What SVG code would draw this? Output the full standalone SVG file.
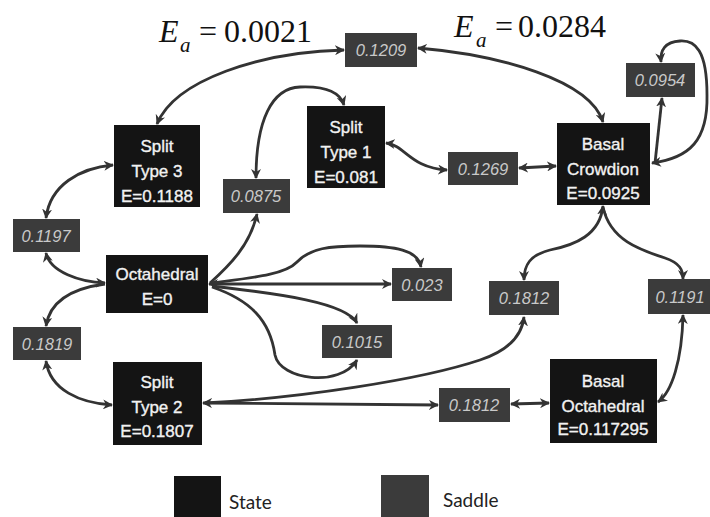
<svg xmlns="http://www.w3.org/2000/svg" width="710" height="517" viewBox="0 0 710 517">
<style>
.st{fill:#141414}
.sd{fill:#3b3b3b}
.stt{fill:#f2f2f2;stroke:#f2f2f2;stroke-width:0.35;font-family:"Liberation Sans",Arial,sans-serif;font-size:17px;text-anchor:middle}
.sdt{fill:#c9c9c9;font-family:"Liberation Sans",Arial,sans-serif;font-size:16.5px;font-style:italic;text-anchor:middle}
.ln{fill:none;stroke:#333;stroke-width:2.8}
.ttl{font-family:"Liberation Serif","Times New Roman",serif;fill:#111}
.lg{font-family:Lato,"Open Sans",sans-serif;font-size:19px;fill:#222}
</style>
<defs>
<marker id="ah" viewBox="0 0 10 10" refX="9" refY="5" markerUnits="userSpaceOnUse" markerWidth="10" markerHeight="10" orient="auto-start-reverse">
<path d="M0,0 L10,5 L0,10 L3,5 z" fill="#333"/>
</marker>
</defs>
<g id="titles">
<text class="ttl" x="159" y="42" font-size="32" font-style="italic">E</text>
<text class="ttl" x="180" y="52" font-size="21" font-style="italic">a</text>
<text class="ttl" x="199" y="42" font-size="32">=</text>
<text class="ttl" x="224" y="42" font-size="32">0.0021</text>
<text class="ttl" x="454" y="37" font-size="32" font-style="italic">E</text>
<text class="ttl" x="476" y="47" font-size="21" font-style="italic">a</text>
<text class="ttl" x="495" y="37" font-size="32">=</text>
<text class="ttl" x="518" y="37" font-size="32">0.0284</text>
</g>
<g id="connectors">
<path class="ln" marker-start="url(#ah)" marker-end="url(#ah)" d="M157,124 C175,80 260,52 344,50"/>
<path class="ln" marker-start="url(#ah)" marker-end="url(#ah)" d="M418,48 C500,55 590,80 603,122"/>
<path class="ln" marker-start="url(#ah)" marker-end="url(#ah)" d="M256,178 C256,120 272,88 300,87 C325,86 340,92 344,105"/>
<path class="ln" marker-start="url(#ah)" marker-end="url(#ah)" d="M386,143 C405,145 410,168 447,170"/>
<path class="ln" marker-start="url(#ah)" marker-end="url(#ah)" d="M519,168 L556,166"/>
<path class="ln" marker-end="url(#ah)" d="M655,163 L662,98"/>
<path class="ln" marker-start="url(#ah)" marker-end="url(#ah)" d="M652,163 C690,158 708,140 707,95 C707,50 695,40 680,41 C665,42 660,50 661,62"/>
<path class="ln" marker-start="url(#ah)" marker-end="url(#ah)" d="M603,206 C600,235 575,245 550,250 C530,255 524,265 524,280"/>
<path class="ln" marker-end="url(#ah)" d="M603,207 C610,240 640,250 665,258 C680,263 683,270 683,279"/>
<path class="ln" marker-start="url(#ah)" marker-end="url(#ah)" d="M113,165 C80,168 50,185 46,218"/>
<path class="ln" marker-start="url(#ah)" marker-end="url(#ah)" d="M46,253 C50,272 80,282 105,283"/>
<path class="ln" marker-end="url(#ah)" d="M105,284 C75,288 50,300 46,326"/>
<path class="ln" marker-start="url(#ah)" marker-end="url(#ah)" d="M46,361 C50,390 80,403 112,405"/>
<path class="ln" marker-end="url(#ah)" d="M210,283 C230,265 250,245 257,214"/>
<path class="ln" marker-start="url(#ah)" marker-end="url(#ah)" d="M209,284 L391,284"/>
<path class="ln" marker-end="url(#ah)" d="M212,283 C250,278 285,275 297,262 C310,248 330,246 360,246 C395,246 418,250 421,267"/>
<path class="ln" marker-end="url(#ah)" d="M212,286 C260,292 345,300 357,323"/>
<path class="ln" marker-end="url(#ah)" d="M212,287 C250,300 270,320 275,355 C280,380 340,388 357,360"/>
<path class="ln" marker-start="url(#ah)" marker-end="url(#ah)" d="M203,403 L438,405"/>
<path class="ln" marker-end="url(#ah)" d="M205,403 C300,398 420,380 480,360 C510,350 522,335 524,317"/>
<path class="ln" marker-start="url(#ah)" marker-end="url(#ah)" d="M511,404 L549,403"/>
<path class="ln" marker-start="url(#ah)" marker-end="url(#ah)" d="M658,402 C672,392 682,360 683,315"/>
</g>
<g id="split3"><rect class="st" x="114" y="125" width="86" height="82"/><text class="stt" x="157" y="152">Split</text><text class="stt" x="157" y="177">Type 3</text><text class="stt" x="157" y="202">E=0.1188</text></g>
<g id="split1"><rect class="st" x="307" y="106" width="78" height="82"/><text class="stt" x="346" y="133">Split</text><text class="stt" x="346" y="158">Type 1</text><text class="stt" x="346" y="183">E=0.081</text></g>
<g id="basalcrowdion"><rect class="st" x="557" y="123" width="93" height="82"/><text class="stt" x="603" y="150">Basal</text><text class="stt" x="603" y="175">Crowdion</text><text class="stt" x="603" y="199">E=0.0925</text></g>
<g id="octahedral"><rect class="st" x="106" y="255" width="102" height="58"/><text class="stt" x="157" y="280">Octahedral</text><text class="stt" x="157" y="305">E=0</text></g>
<g id="split2"><rect class="st" x="113" y="362" width="89" height="83"/><text class="stt" x="157" y="388">Split</text><text class="stt" x="157" y="413">Type 2</text><text class="stt" x="157" y="437">E=0.1807</text></g>
<g id="basaloct"><rect class="st" x="550" y="359" width="107" height="84"/><text class="stt" x="603" y="387">Basal</text><text class="stt" x="603" y="412">Octahedral</text><text class="stt" x="603" y="435">E=0.117295</text></g>
<g id="s1209"><rect class="sd" x="345" y="33" width="72" height="34"/><text class="sdt" x="381" y="56">0.1209</text></g>
<g id="s0954"><rect class="sd" x="626" y="63" width="69" height="34"/><text class="sdt" x="660" y="86">0.0954</text></g>
<g id="s0875"><rect class="sd" x="223" y="179" width="67" height="34"/><text class="sdt" x="256" y="202">0.0875</text></g>
<g id="s1269"><rect class="sd" x="448" y="152" width="70" height="33"/><text class="sdt" x="483" y="175">0.1269</text></g>
<g id="s1197"><rect class="sd" x="13" y="219" width="67" height="33"/><text class="sdt" x="46" y="242">0.1197</text></g>
<g id="s023"><rect class="sd" x="392" y="268" width="60" height="33"/><text class="sdt" x="422" y="291">0.023</text></g>
<g id="s1812a"><rect class="sd" x="489" y="281" width="70" height="34"/><text class="sdt" x="524" y="304">0.1812</text></g>
<g id="s1191"><rect class="sd" x="648" y="279" width="62" height="35"/><text class="sdt" x="680" y="303">0.1191</text></g>
<g id="s1015"><rect class="sd" x="322" y="325" width="70" height="33"/><text class="sdt" x="357" y="348">0.1015</text></g>
<g id="s1819"><rect class="sd" x="13" y="327" width="68" height="33"/><text class="sdt" x="47" y="350">0.1819</text></g>
<g id="s1812b"><rect class="sd" x="439" y="388" width="71" height="34"/><text class="sdt" x="474" y="411">0.1812</text></g>
<g id="legend">
<rect class="st" x="174" y="476" width="47" height="41"/><text class="lg" x="229" y="509">State</text>
<rect class="sd" x="381" y="475" width="48" height="42"/><text class="lg" x="443" y="507">Saddle</text>
</g>
</svg>
